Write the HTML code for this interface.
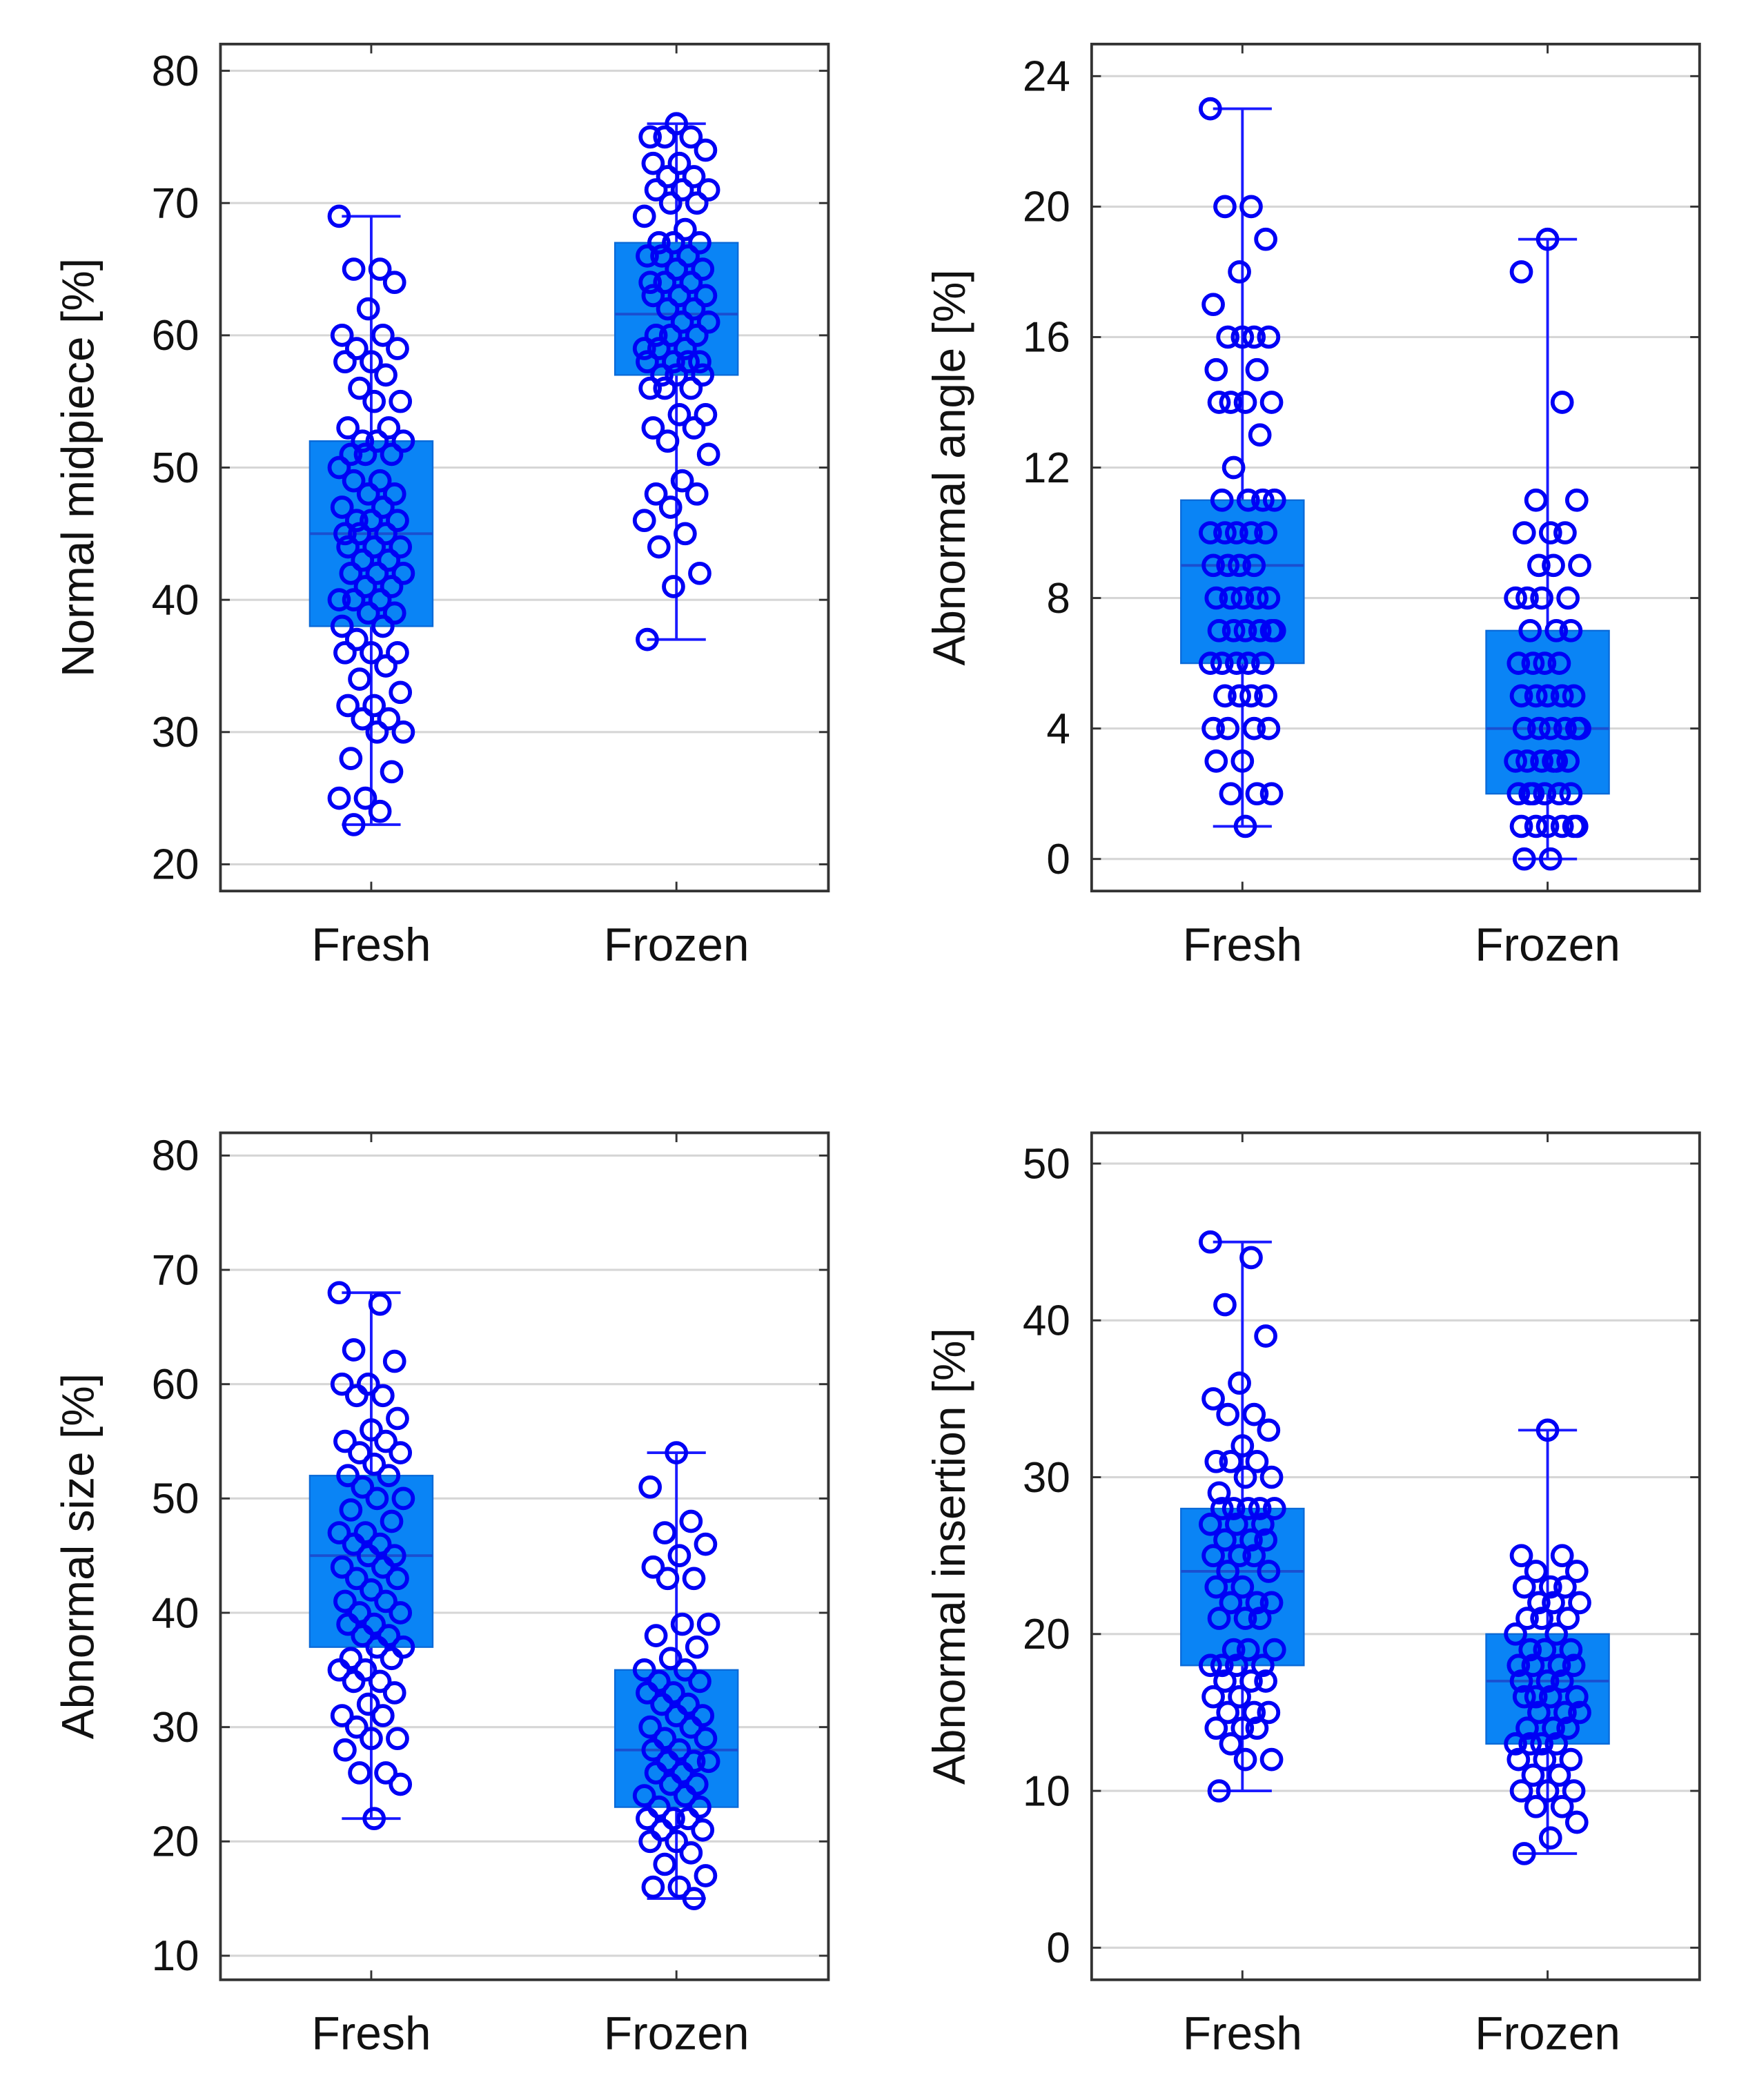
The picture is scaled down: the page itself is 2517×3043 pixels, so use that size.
<!DOCTYPE html>
<html><head><meta charset="utf-8"><style>
html,body{margin:0;padding:0;background:#fff;}
svg{display:block;font-family:"Liberation Sans",Arial,sans-serif;}
</style></head><body>
<svg id="fig" width="2517" height="3043" viewBox="0 0 1300 1572" preserveAspectRatio="none" xmlns="http://www.w3.org/2000/svg"></svg>
<script>
const categories = ["Fresh","Frozen"];
// panel 1: Normal midpiece
const p1Ticks = [20,30,40,50,60,70,80];
const p1Stats = [[23,38,45,52,69],[37,57,61.6,67,76]];
const p1Fresh = [69,65,65,64,62,60,60,59,59,58,58,57,56,55,55,53,53,52,52,52,51,51,51,50,49,49,48,48,47,47,46,46,46,45,45,45,44,44,44,43,43,42,42,42,41,41,40,40,40,39,39,38,38,37,36,36,36,35,34,33,32,32,31,31,30,30,28,27,25,25,24,23];
const p1Frozen = [76,75,75,75,74,73,73,72,72,71,71,71,70,70,69,68,67,67,67,66,66,66,65,65,64,64,64,63,63,63,62,62,61,61,60,60,60,59,59,59,58,58,58,58,57,57,57,56,56,56,54,54,53,53,52,51,49,48,48,47,46,45,44,42,41,37];
// panel 2: Abnormal angle
const p2Ticks = [0,4,8,12,16,20,24];
const p2Stats = [[1,6,9,11,23],[0,2,4,7,19]];
const p2Fresh = [23,20,20,19,18,17,16,16,16,16,15,15,14,14,14,14,13,12,11,11,11,11,10,10,10,10,10,9,9,9,9,8,8,8,8,8,7,7,7,7,7,7,6,6,6,6,6,5,5,5,5,4,4,4,4,3,3,2,2,2,1];
const p2Frozen = [19,18,14,11,11,10,10,10,9,9,9,8,8,8,8,7,7,7,6,6,6,6,5,5,5,5,5,4,4,4,4,4,4,3,3,3,3,3,3,2,2,2,2,2,2,1,1,1,1,1,1,0,0];
// panel 3: Abnormal size
const p3Ticks = [10,20,30,40,50,60,70,80];
const p3Stats = [[22,37,45,52,68],[15,23,28,35,54]];
const p3Fresh = [68,67,63,62,60,60,59,59,57,56,55,55,54,54,53,52,52,51,50,50,49,48,47,47,46,46,45,45,44,44,43,43,42,41,41,40,40,39,39,38,38,37,37,36,36,35,35,34,34,33,32,31,31,30,29,29,28,26,26,25,22];
const p3Frozen = [54,51,48,47,46,45,44,43,43,39,39,38,37,36,35,35,34,34,33,33,32,32,31,31,30,30,29,29,28,28,27,27,27,26,26,25,25,24,24,23,23,22,22,22,21,21,20,20,19,18,17,16,16,15];
// panel 4: Abnormal insertion
const p4Ticks = [0,10,20,30,40,50];
const p4Stats = [[10,18,24,28,45],[6,13,17,20,33]];
const p4Fresh = [45,44,41,39,36,35,34,34,33,32,31,31,31,30,30,29,28,28,28,28,28,27,27,27,26,26,26,25,25,25,24,24,23,23,22,22,22,21,21,21,19,19,19,18,18,18,18,17,17,17,16,16,15,15,15,14,14,14,13,12,12,10];
const p4Frozen = [33,25,25,24,24,23,23,23,22,22,22,21,21,21,20,20,19,19,19,18,18,18,18,17,17,17,16,16,16,16,15,15,15,14,14,14,13,13,13,13,12,12,12,11,11,10,10,10,9,9,8,7,6];

const NS="http://www.w3.org/2000/svg";
const svg=document.getElementById('fig');
function mk(tag,attrs,parent){const e=document.createElementNS(NS,tag);for(const k in attrs)e.setAttribute(k,attrs[k]);(parent||svg).appendChild(e);return e;}

const panels=[
 {name:"normal-midpiece",title:"Normal midpiece [%]",x0:165,x1:620,y0:33,y1:667,vLo:20,vHi:80,pLo:647,pHi:53,ticks:p1Ticks,stats:p1Stats,pts:[p1Fresh,p1Frozen]},
 {name:"abnormal-angle",title:"Abnormal angle [%]",x0:817,x1:1272,y0:33,y1:667,vLo:0,vHi:24,pLo:643,pHi:57,ticks:p2Ticks,stats:p2Stats,pts:[p2Fresh,p2Frozen]},
 {name:"abnormal-size",title:"Abnormal size [%]",x0:165,x1:620,y0:848,y1:1482,vLo:10,vHi:80,pLo:1464,pHi:865,ticks:p3Ticks,stats:p3Stats,pts:[p3Fresh,p3Frozen]},
 {name:"abnormal-insertion",title:"Abnormal insertion [%]",x0:817,x1:1272,y0:848,y1:1482,vLo:0,vHi:50,pLo:1458,pHi:871,ticks:p4Ticks,stats:p4Stats,pts:[p4Fresh,p4Frozen]}
];

panels.forEach(p=>{
  const g=mk('g',{});
  
  
  const y=v=>p.pLo+(v-p.vLo)*(p.pHi-p.pLo)/(p.vHi-p.vLo);
  const w=p.x1-p.x0;
  const cx=i=>p.x0+w*(i===0?0.248:0.75);
  p.ticks.forEach(t=>{
    const gl=mk('line',{x1:p.x0,x2:p.x1,y1:y(t),y2:y(t),stroke:'#d6d6d6','stroke-width':1.6},g);
    
    
    mk('line',{x1:p.x0,x2:p.x0+7,y1:y(t),y2:y(t),stroke:'#333','stroke-width':1.5},g);
    mk('line',{x1:p.x1-7,x2:p.x1,y1:y(t),y2:y(t),stroke:'#333','stroke-width':1.5},g);
    const tl=mk('text',{x:p.x0-16,y:y(t)+11,'text-anchor':'end','font-size':32,fill:'#111'},g);
    tl.textContent=t;
    
    
  });
  categories.forEach((c,i)=>{
    const s=p.stats[i];const x=cx(i);const bw=46;
    const wl=mk('line',{x1:x,x2:x,y1:y(s[0]),y2:y(s[4]),stroke:'#1a1aff','stroke-width':2},g);
    
    
    mk('line',{x1:x-22,x2:x+22,y1:y(s[0]),y2:y(s[0]),stroke:'#1a1aff','stroke-width':2},g);
    mk('line',{x1:x-22,x2:x+22,y1:y(s[4]),y2:y(s[4]),stroke:'#1a1aff','stroke-width':2},g);
    const b=mk('rect',{x:x-bw,y:y(s[3]),width:bw*2,height:y(s[1])-y(s[3]),fill:'#0a84f5',stroke:'#0a6ad8','stroke-width':1.2},g);
    
    
    mk('line',{x1:x-bw,x2:x+bw,y1:y(s[2]),y2:y(s[2]),stroke:'#1a4fd0','stroke-width':2},g);
    p.pts[i].forEach((v,k)=>{
      const h=((k*37+i*11)%23)/22-0.5;
      const cc=mk('circle',{cx:x+h*48,cy:y(v),r:7.2,fill:'none',stroke:'#0000f5','stroke-width':3},g);
      
      
    });
    mk('line',{x1:x,x2:x,y1:p.y0,y2:p.y0+7,stroke:'#333','stroke-width':1.5},g);
    mk('line',{x1:x,x2:x,y1:p.y1-7,y2:p.y1,stroke:'#333','stroke-width':1.5},g);
    const xl=mk('text',{x:x,y:p.y1+52,'text-anchor':'middle','font-size':35,fill:'#111'},g);
    xl.textContent=c;
    
    
  });
  const fr=mk('rect',{x:p.x0,y:p.y0,width:w,height:p.y1-p.y0,fill:'none',stroke:'#333','stroke-width':2},g);
  
  
  const tx=p.x0-95, ty=(p.y0+p.y1)/2;
  const yt=mk('text',{x:tx,y:ty,'text-anchor':'middle','font-size':34,fill:'#111',transform:`rotate(-90 ${tx} ${ty})`},g);
  yt.textContent=p.title;
  
  
});
</script>
</body></html>
